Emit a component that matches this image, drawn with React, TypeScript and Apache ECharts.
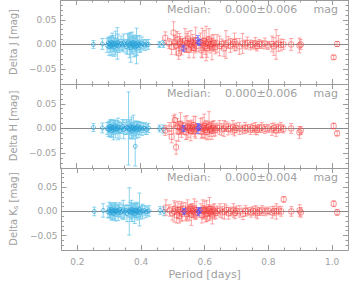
import React, { useEffect, useRef } from "react";
import * as echarts from "echarts";

// ---------- data ----------
const bluePeriod = [0.253, 0.281, 0.296, 0.300, 0.302, 0.304, 0.306, 0.308, 0.310, 0.312, 0.314, 0.316, 0.318, 0.320, 0.322, 0.325, 0.328, 0.330, 0.333, 0.336, 0.340, 0.344, 0.348, 0.352, 0.356, 0.360, 0.363, 0.366, 0.368, 0.370, 0.372, 0.374, 0.376, 0.378, 0.380, 0.382, 0.384, 0.386, 0.388, 0.390, 0.392, 0.395, 0.398, 0.401, 0.405, 0.410, 0.415, 0.420, 0.425, 0.460, 0.472];
const blueJ = [0.000, 0.001, -0.002, 0.003, -0.004, 0.002, 0.000, -0.003, 0.004, 0.001, -0.001, 0.002, -0.005, 0.000, 0.003, -0.002, 0.002, 0.004, -0.003, 0.000, 0.002, -0.001, 0.003, 0.000, -0.004, 0.001, 0.005, -0.002, 0.002, -0.006, 0.000, 0.003, -0.001, 0.004, -0.003, 0.001, -0.005, 0.002, -0.003, -0.002, 0.003, -0.001, 0.001, -0.003, 0.002, 0.000, -0.001, 0.001, 0.000, 0.000, 0.001];
const blueJErr = [0.008, 0.011, 0.014, 0.012, 0.018, 0.010, 0.015, 0.020, 0.013, 0.022, 0.009, 0.016, 0.019, 0.012, 0.024, 0.014, 0.032, 0.017, 0.013, 0.010, 0.015, 0.012, 0.018, 0.009, 0.014, 0.021, 0.016, 0.025, 0.012, 0.030, 0.015, 0.022, 0.018, 0.013, 0.022, 0.011, 0.019, 0.016, 0.036, 0.020, 0.014, 0.010, 0.017, 0.012, 0.013, 0.009, 0.011, 0.008, 0.010, 0.006, 0.007];
const blueH = [0.002, 0.001, 0.000, -0.002, 0.003, -0.001, 0.004, 0.000, -0.004, 0.002, 0.001, -0.003, 0.002, 0.005, -0.002, 0.000, 0.003, -0.001, 0.002, -0.004, 0.001, 0.004, -0.002, 0.000, 0.003, 0.002, 0.000, -0.003, 0.004, -0.001, 0.002, -0.005, 0.001, 0.003, -0.002, 0.000, -0.036, 0.002, -0.003, 0.001, 0.004, -0.002, 0.000, 0.002, -0.001, 0.001, 0.000, -0.002, 0.001, 0.000, -0.001];
const blueHErr = [0.008, 0.010, 0.012, 0.014, 0.011, 0.016, 0.013, 0.018, 0.012, 0.015, 0.010, 0.020, 0.014, 0.012, 0.017, 0.011, 0.013, 0.022, 0.012, 0.016, 0.010, 0.014, 0.019, 0.012, 0.015, 0.013, 0.074, 0.018, 0.014, 0.012, 0.021, 0.016, 0.011, 0.024, 0.013, 0.015, 0.040, 0.012, 0.017, 0.014, 0.010, 0.016, 0.012, 0.011, 0.013, 0.009, 0.012, 0.010, 0.009, 0.007, 0.008];
const blueK = [0.000, 0.002, -0.001, 0.003, -0.003, 0.001, 0.000, 0.004, -0.002, 0.002, -0.004, 0.001, 0.003, -0.001, 0.000, 0.002, -0.003, 0.001, 0.004, -0.002, 0.000, 0.003, -0.001, 0.002, -0.004, 0.001, 0.000, 0.003, -0.002, 0.001, 0.004, -0.003, 0.000, 0.002, -0.005, 0.001, 0.003, -0.002, 0.000, 0.002, -0.001, 0.004, -0.003, 0.001, 0.000, 0.002, -0.001, 0.000, 0.001, 0.002, 0.000];
const blueKErr = [0.009, 0.014, 0.012, 0.016, 0.011, 0.013, 0.018, 0.012, 0.015, 0.010, 0.014, 0.017, 0.012, 0.019, 0.011, 0.013, 0.016, 0.012, 0.014, 0.010, 0.015, 0.020, 0.013, 0.011, 0.017, 0.012, 0.049, 0.016, 0.014, 0.022, 0.013, 0.018, 0.011, 0.015, 0.020, 0.013, 0.016, 0.012, 0.018, 0.014, 0.011, 0.034, 0.013, 0.012, 0.015, 0.010, 0.012, 0.009, 0.011, 0.008, 0.009];

const redPeriod = [0.478, 0.490, 0.498, 0.504, 0.508, 0.512, 0.516, 0.520, 0.523, 0.526, 0.529, 0.532, 0.540, 0.543, 0.546, 0.549, 0.552, 0.555, 0.558, 0.561, 0.564, 0.567, 0.570, 0.573, 0.576, 0.588, 0.591, 0.594, 0.597, 0.600, 0.603, 0.606, 0.609, 0.612, 0.615, 0.618, 0.621, 0.624, 0.627, 0.630, 0.635, 0.640, 0.648, 0.655, 0.662, 0.668, 0.675, 0.682, 0.690, 0.695, 0.700, 0.710, 0.720, 0.728, 0.735, 0.745, 0.752, 0.760, 0.765, 0.772, 0.780, 0.790, 0.800, 0.812, 0.818, 0.825, 0.832, 0.840, 0.848, 0.872, 0.898, 0.902, 1.005, 1.016];
const redJ = [0.0135, 0.002, -0.005, 0.024, 0.004, -0.003, 0.010, -0.018, 0.002, 0.006, -0.006, 0.000, 0.008, -0.004, 0.003, 0.012, -0.010, 0.001, 0.006, -0.002, 0.004, -0.007, 0.000, 0.009, -0.003, 0.005, -0.012, 0.003, 0.000, 0.008, -0.004, 0.002, -0.008, 0.004, 0.010, -0.002, 0.001, -0.006, 0.000, 0.003, -0.005, 0.002, -0.003, 0.001, -0.008, 0.000, 0.004, -0.002, 0.001, 0.005, 0.000, -0.004, 0.002, 0.000, 0.003, -0.001, 0.000, 0.002, -0.003, 0.001, 0.000, 0.002, -0.002, 0.001, -0.004, 0.000, 0.002, -0.001, 0.000, 0.000, -0.002, 0.000, -0.026, 0.001];
const redJErr = [0.012, 0.010, 0.015, 0.022, 0.014, 0.018, 0.016, 0.012, 0.020, 0.010, 0.015, 0.012, 0.024, 0.011, 0.019, 0.014, 0.017, 0.012, 0.022, 0.010, 0.016, 0.020, 0.013, 0.026, 0.011, 0.018, 0.014, 0.030, 0.012, 0.020, 0.016, 0.035, 0.018, 0.012, 0.022, 0.015, 0.010, 0.025, 0.012, 0.017, 0.014, 0.018, 0.020, 0.010, 0.016, 0.028, 0.012, 0.014, 0.010, 0.018, 0.012, 0.016, 0.020, 0.009, 0.012, 0.010, 0.008, 0.012, 0.010, 0.009, 0.008, 0.011, 0.008, 0.016, 0.018, 0.030, 0.016, 0.012, 0.010, 0.012, 0.015, 0.010, 0.004, 0.005];
const redH = [-0.004, 0.000, -0.017, 0.008, 0.017, -0.038, 0.004, -0.006, 0.002, 0.010, -0.003, 0.000, 0.006, -0.008, 0.002, 0.004, -0.002, 0.001, -0.005, 0.003, 0.000, 0.007, -0.004, 0.002, -0.001, 0.004, -0.006, 0.002, 0.000, 0.005, -0.003, 0.001, -0.007, 0.003, 0.006, -0.002, 0.000, -0.004, 0.002, 0.000, -0.003, 0.001, 0.002, -0.002, 0.000, 0.004, -0.001, 0.000, 0.002, -0.003, 0.001, 0.000, -0.002, 0.001, 0.000, -0.002, 0.001, 0.000, -0.003, 0.000, 0.002, -0.001, 0.000, -0.002, 0.001, -0.004, 0.000, 0.002, -0.001, 0.000, -0.008, -0.004, 0.005, -0.010];
const redHErr = [0.010, 0.012, 0.012, 0.018, 0.012, 0.014, 0.016, 0.020, 0.012, 0.022, 0.015, 0.011, 0.018, 0.014, 0.024, 0.012, 0.016, 0.010, 0.020, 0.014, 0.012, 0.018, 0.013, 0.022, 0.010, 0.016, 0.014, 0.020, 0.012, 0.024, 0.018, 0.014, 0.016, 0.012, 0.028, 0.014, 0.010, 0.018, 0.012, 0.016, 0.012, 0.010, 0.014, 0.012, 0.016, 0.010, 0.012, 0.009, 0.014, 0.012, 0.010, 0.012, 0.009, 0.011, 0.008, 0.010, 0.009, 0.012, 0.010, 0.008, 0.010, 0.009, 0.008, 0.012, 0.010, 0.012, 0.009, 0.010, 0.008, 0.010, 0.012, 0.008, 0.006, 0.005];
const redK = [0.008, 0.002, -0.004, 0.000, 0.006, -0.008, 0.003, -0.010, 0.004, 0.000, -0.005, 0.006, 0.000, -0.006, 0.004, 0.001, -0.003, 0.005, -0.007, 0.002, 0.000, 0.006, -0.004, 0.003, -0.002, 0.002, -0.008, 0.004, 0.000, 0.003, -0.006, 0.001, -0.004, 0.002, 0.005, -0.002, 0.000, -0.008, 0.002, 0.000, -0.003, 0.001, 0.002, -0.002, 0.000, 0.003, -0.004, 0.000, 0.002, -0.003, 0.001, 0.000, -0.005, 0.001, 0.000, -0.002, 0.001, 0.000, -0.003, 0.000, 0.002, 0.000, 0.001, -0.002, 0.001, 0.000, 0.002, 0.000, 0.025, 0.000, 0.002, -0.002, 0.016, -0.002];
const redKErr = [0.016, 0.012, 0.014, 0.022, 0.012, 0.016, 0.018, 0.014, 0.012, 0.020, 0.015, 0.012, 0.018, 0.014, 0.020, 0.012, 0.016, 0.010, 0.022, 0.014, 0.012, 0.020, 0.013, 0.018, 0.010, 0.014, 0.016, 0.020, 0.012, 0.018, 0.016, 0.022, 0.014, 0.012, 0.024, 0.014, 0.010, 0.018, 0.012, 0.016, 0.012, 0.010, 0.014, 0.012, 0.016, 0.010, 0.012, 0.009, 0.014, 0.012, 0.010, 0.012, 0.012, 0.011, 0.008, 0.010, 0.009, 0.012, 0.012, 0.008, 0.010, 0.009, 0.008, 0.012, 0.010, 0.016, 0.009, 0.010, 0.006, 0.010, 0.012, 0.010, 0.006, 0.006];

const darkPeriod = [0.535, 0.580, 0.584];
const darkJ = [-0.008, 0.010, 0.004];
const darkJErr = [0.006, 0.008, 0.006];
const darkH = [0.000, 0.000, 0.002];
const darkHErr = [0.006, 0.010, 0.006];
const darkK = [0.000, -0.001, 0.002];
const darkKErr = [0.006, 0.008, 0.006];

const bandNames = ["J", "H", "K"];
const medianValues = ["0.000±0.006", "0.000±0.006", "0.000±0.004"];
const xMajorTicks = [0.2, 0.4, 0.6, 0.8, 1.0];
const xMinorTicks = [0.25, 0.3, 0.35, 0.45, 0.5, 0.55, 0.65, 0.7, 0.75, 0.85, 0.9, 0.95];
const yMajorTicks = [-0.05, 0, 0.05];
const yMinorTicks = [-0.07, -0.06, -0.04, -0.03, -0.02, -0.01, 0.01, 0.02, 0.03, 0.04, 0.06, 0.07, 0.08];

// ---------- style ----------
const AXIS = "#9a9a9a";
const TEXT = "#a0a0a0";
const FONT = "DejaVu Sans";
const X_MIN = 0.15, X_MAX = 1.05, Y_MIN = -0.08, Y_MAX = 0.09;
const PANEL_TOP = [0, 84, 168];
const PANEL_H = 84;

function errBars(xs: number[], ys: number[], es: number[], p: number, color: string, z: number) {
  return {
    type: "custom",
    xAxisIndex: p * 4,
    yAxisIndex: p * 4,
    clip: true,
    z,
    silent: true,
    encode: { x: 0, y: [1, 2] },
    data: xs.map((x, i) => [x, ys[i] - es[i], ys[i] + es[i]]),
    renderItem: (params: any, api: any) => {
      const x = api.value(0);
      const a = api.coord([x, api.value(1)]);
      const b = api.coord([x, api.value(2)]);
      const w = 2;
      const style = { stroke: color, lineWidth: 1, fill: "none" };
      return {
        type: "group",
        children: [
          { type: "line", shape: { x1: a[0], y1: a[1], x2: b[0], y2: b[1] }, style },
          { type: "line", shape: { x1: a[0] - w, y1: a[1], x2: a[0] + w, y2: a[1] }, style },
          { type: "line", shape: { x1: b[0] - w, y1: b[1], x2: b[0] + w, y2: b[1] }, style },
        ],
      };
    },
  };
}

function points(xs: number[], ys: number[], p: number, color: string, symbol: string, size: number, z: number, extra: any = {}) {
  return {
    type: "scatter",
    xAxisIndex: p * 4,
    yAxisIndex: p * 4,
    z,
    silent: true,
    symbol,
    symbolSize: size,
    itemStyle: { color: "rgba(0,0,0,0)", borderColor: color, borderWidth: 1 },
    data: xs.map((x, i) => [x, ys[i]]),
    ...extra,
  };
}

function fmtY(v: number) {
  const r = Math.round(v * 100) / 100;
  if (r === 0) return "0.00";
  return (r < 0 ? "\u2212" : "") + Math.abs(r).toFixed(2);
}

export default function App() {
  const ref = useRef<HTMLDivElement>(null);
  useEffect(() => {
    if (!ref.current) return;
    const chart = echarts.init(ref.current, undefined, { renderer: "svg" });
    const grids: any[] = [];
    const xAxes: any[] = [];
    const yAxes: any[] = [];
    const series: any[] = [];
    const graphics: any[] = [];

    const blueSets = [[blueJ, blueJErr], [blueH, blueHErr], [blueK, blueKErr]];
    const redSets = [[redJ, redJErr], [redH, redHErr], [redK, redKErr]];
    const darkSets = [[darkJ, darkJErr], [darkH, darkHErr], [darkK, darkKErr]];

    for (let p = 0; p < 3; p++) {
      grids.push({ left: 50, right: 2, top: PANEL_TOP[p], height: PANEL_H, containLabel: false });
      const isBottom = p === 2;
      const baseX = { type: "value", gridIndex: p, min: X_MIN, max: X_MAX, splitLine: { show: false } };
      const lineOn = { show: true, onZero: false, lineStyle: { color: AXIS, width: 1 } };
      const lineOff = { show: false, onZero: false };
      xAxes.push({
        ...baseX,
        position: "bottom",
        axisLine: lineOn,
        axisTick: { show: true, inside: true, length: 5, customValues: xMajorTicks, lineStyle: { color: AXIS } },
        axisLabel: {
          show: isBottom,
          customValues: xMajorTicks,
          formatter: (v: number) => v.toFixed(1),
          color: TEXT, fontSize: 9, fontFamily: FONT, margin: 7,
        },
        name: isBottom ? "Period [days]" : "",
        nameLocation: "middle",
        nameGap: 19,
        nameTextStyle: { color: TEXT, fontSize: 11, fontFamily: FONT, fontWeight: "normal" },
      });
      xAxes.push({
        ...baseX,
        position: "bottom",
        axisLine: lineOff,
        axisTick: { show: true, inside: true, length: 2.5, customValues: xMinorTicks, lineStyle: { color: AXIS } },
        axisLabel: { show: false },
      });
      xAxes.push({
        ...baseX,
        position: "top",
        axisLine: lineOn,
        axisTick: { show: true, inside: true, length: 5, customValues: xMajorTicks, lineStyle: { color: AXIS } },
        axisLabel: { show: false },
      });
      xAxes.push({
        ...baseX,
        position: "top",
        axisLine: lineOff,
        axisTick: { show: true, inside: true, length: 2.5, customValues: xMinorTicks, lineStyle: { color: AXIS } },
        axisLabel: { show: false },
      });

      const baseY = { type: "value", gridIndex: p, min: Y_MIN, max: Y_MAX, splitLine: { show: false } };
      const nm = bandNames[p] === "K" ? "{a|Delta K}{s|s}{a| [mag]}" : `{a|Delta ${bandNames[p]} [mag]}`;
      yAxes.push({
        ...baseY,
        position: "left",
        axisLine: lineOn,
        axisTick: { show: true, inside: true, length: 5, customValues: yMajorTicks, lineStyle: { color: AXIS } },
        axisLabel: {
          show: true,
          customValues: yMajorTicks,
          formatter: fmtY,
          color: TEXT, fontSize: 9, fontFamily: FONT, margin: 4,
        },
        name: nm,
        nameLocation: "middle",
        nameGap: 40,
        nameRotate: 90,
        nameTextStyle: {
          rich: {
            a: { color: TEXT, fontSize: 10, fontFamily: FONT, lineHeight: 12 },
            s: { color: TEXT, fontSize: 7, fontFamily: FONT, lineHeight: 8, verticalAlign: "bottom" },
          },
        },
      });
      yAxes.push({
        ...baseY,
        position: "left",
        axisLine: lineOff,
        axisTick: { show: true, inside: true, length: 2.5, customValues: yMinorTicks, lineStyle: { color: AXIS } },
        axisLabel: { show: false },
      });
      yAxes.push({
        ...baseY,
        position: "right",
        axisLine: lineOn,
        axisTick: { show: true, inside: true, length: 5, customValues: yMajorTicks, lineStyle: { color: AXIS } },
        axisLabel: { show: false },
      });
      yAxes.push({
        ...baseY,
        position: "right",
        axisLine: lineOff,
        axisTick: { show: true, inside: true, length: 2.5, customValues: yMinorTicks, lineStyle: { color: AXIS } },
        axisLabel: { show: false },
      });

      const [bv, be] = blueSets[p];
      const [rv, re] = redSets[p];
      const [dv, de] = darkSets[p];
      series.push(errBars(bluePeriod, bv, be, p, "rgba(110,200,235,0.8)", 2));
      series.push(points(bluePeriod, bv, p, "rgba(40,160,215,0.9)", "circle", 4, 3, {
        markLine: {
          silent: true,
          symbol: "none",
          label: { show: false },
          lineStyle: { color: "#8a8a8a", width: 1, type: "solid" },
          data: [{ yAxis: 0 }],
          z: 1,
        },
      }));
      series.push(errBars(redPeriod, rv, re, p, "rgba(255,110,110,0.6)", 4));
      series.push(points(redPeriod, rv, p, "rgba(240,60,60,0.7)", "roundRect", 5, 5));
      series.push(errBars(darkPeriod, dv, de, p, "rgba(100,100,255,0.75)", 6));
      series.push(points(darkPeriod, dv, p, "rgba(70,70,255,0.9)", "diamond", 5, 7));

      const ty = PANEL_TOP[p] + 9.5;
      const ts = { fill: TEXT, font: `11px "${FONT}"`, verticalAlign: "middle" };
      graphics.push({ type: "text", x: 167, y: ty, silent: true, style: { ...ts, text: "Median:", align: "left" } });
      graphics.push({ type: "text", x: 225, y: ty, silent: true, style: { ...ts, text: medianValues[p], align: "left" } });
      graphics.push({ type: "text", x: 338, y: ty, silent: true, style: { ...ts, text: "mag", align: "right" } });
    }

    chart.setOption({
      animation: false,
      backgroundColor: "#ffffff",
      textStyle: { fontFamily: FONT },
      grid: grids,
      xAxis: xAxes,
      yAxis: yAxes,
      series,
      graphic: graphics,
    });
    return () => chart.dispose();
  }, []);
  return (
    <div
      ref={ref}
      style={{ position: "fixed", left: 0, top: 0, width: 350, height: 281, background: "#fff" }}
    />
  );
}
